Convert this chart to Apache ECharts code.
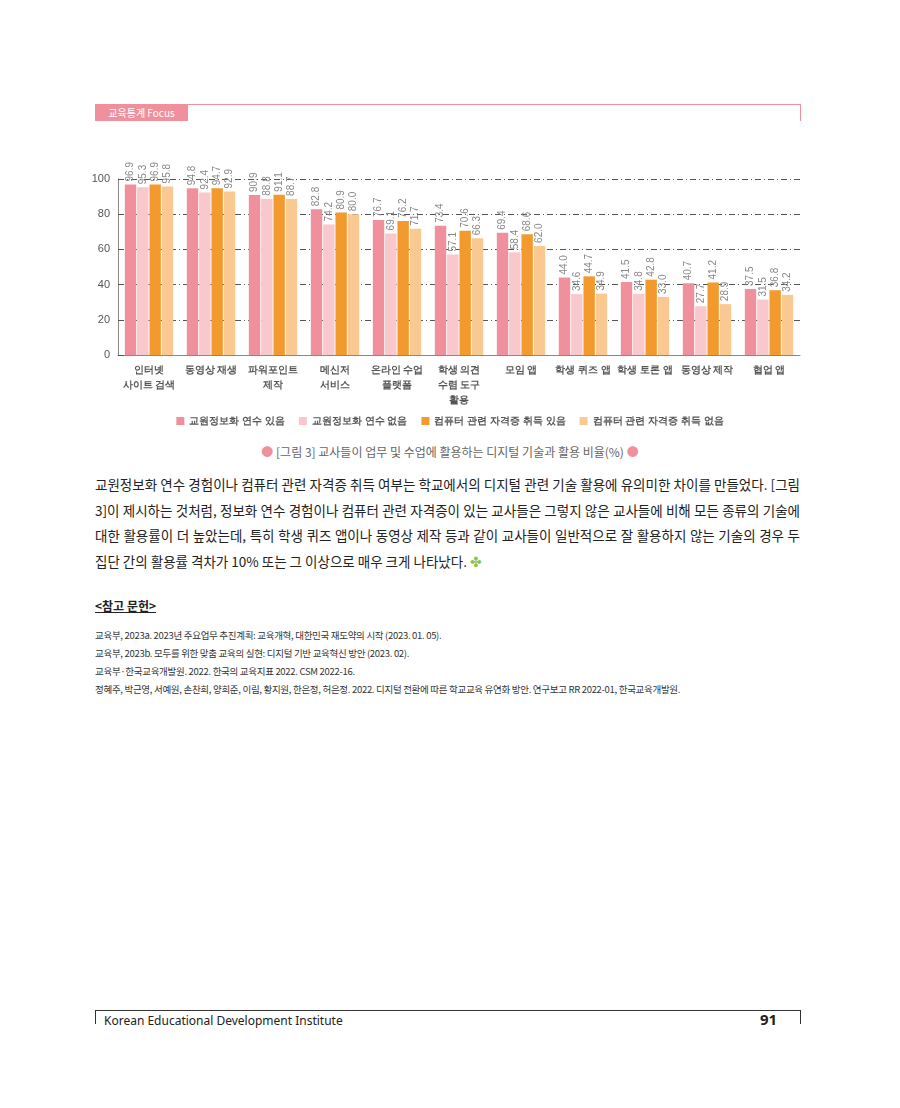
<!DOCTYPE html>
<html><head><meta charset="utf-8">
<script src="https://cdn.jsdelivr.net/npm/echarts@6/dist/echarts.min.js"></script>
<style>
body{margin:0;width:900px;height:1108px;position:relative;background:#fff;font-family:"Noto Sans CJK KR","Noto Sans",sans-serif;color:#222}
.abs{position:absolute}
</style></head><body>
<div class="abs" style="left:95px;top:104px;width:93px;height:17px;background:#F0909C;color:#fff;font-size:10px;line-height:17px;text-align:center">교육통계 Focus</div>
<div class="abs" style="left:188px;top:104px;width:612px;border-top:1px solid #F0909C"></div>
<div class="abs" style="left:800px;top:104px;height:17px;border-left:1px solid #F0909C"></div>
<div id="c" class="abs" style="left:0;top:0;width:900px;height:440px"></div>
<div class="abs" style="left:0;top:443px;width:900px;text-align:center;font-size:12px;color:#666"><span style="color:#F0909C">●</span> [그림 3] 교사들이 업무 및 수업에 활용하는 디지털 기술과 활용 비율(%) <span style="color:#F0909C">●</span></div>
<div class="abs" style="left:95px;top:472px;width:705px;font-size:13.5px;line-height:25.5px;text-align:justify;color:#222">교원정보화 연수 경험이나 컴퓨터 관련 자격증 취득 여부는 학교에서의 디지털 관련 기술 활용에 유의미한 차이를 만들었다. [그림 3]이 제시하는 것처럼, 정보화 연수 경험이나 컴퓨터 관련 자격증이 있는 교사들은 그렇지 않은 교사들에 비해 모든 종류의 기술에 대한 활용률이 더 높았는데, 특히 학생 퀴즈 앱이나 동영상 제작 등과 같이 교사들이 일반적으로 잘 활용하지 않는 기술의 경우 두 집단 간의 활용률 격차가 10% 또는 그 이상으로 매우 크게 나타났다. <span style="color:#8BC34A">✤</span></div>
<div class="abs" style="left:95px;top:597px;font-size:12px;font-weight:bold;text-decoration:underline">&lt;참고 문헌&gt;</div>
<div class="abs" style="left:95px;top:626px;font-size:9.5px;line-height:18px;color:#333;letter-spacing:-0.3px">
교육부, 2023a. 2023년 주요업무 추진계획: 교육개혁, 대한민국 재도약의 시작 (2023. 01. 05).<br>
교육부, 2023b. 모두를 위한 맞춤 교육의 실현: 디지털 기반 교육혁신 방안 (2023. 02).<br>
교육부·한국교육개발원. 2022. 한국의 교육지표 2022. CSM 2022-16.<br>
정혜주, 박근영, 서예원, 손찬희, 양희준, 이림, 황지원, 한은정, 허은정. 2022. 디지털 전환에 따른 학교교육 유연화 방안. 연구보고 RR 2022-01, 한국교육개발원.</div>
<div class="abs" style="left:95px;top:1010px;width:705px;border-top:1px solid #333"></div>
<div class="abs" style="left:95px;top:1010px;height:14px;border-left:1px solid #333"></div>
<div class="abs" style="left:800px;top:1010px;height:14px;border-left:1px solid #333"></div>
<div class="abs" style="left:104px;top:1012px;font-size:12px;color:#222;font-family:'Noto Sans'">Korean Educational Development Institute</div>
<div class="abs" style="left:760px;top:1009px;font-size:15px;font-weight:bold;font-family:'Noto Sans'">91</div>
<script>
const categories=['인터넷\n사이트 검색','동영상 재생','파워포인트\n제작','메신저\n서비스','온라인 수업\n플랫폼','학생 의견\n수렴 도구\n활용','모임 앱','학생 퀴즈 앱','학생 토론 앱','동영상 제작','협업 앱'];
const seriesNames=['교원정보화 연수 있음','교원정보화 연수 없음','컴퓨터 관련 자격증 취득 있음','컴퓨터 관련 자격증 취득 없음'];
const trainYes=[96.9,94.8,90.9,82.8,76.7,73.4,69.4,44.0,41.5,40.7,37.5];
const trainNo=[95.3,92.4,88.8,74.2,69.1,57.1,58.4,34.6,34.8,27.7,31.5];
const certYes=[96.9,94.7,91.1,80.9,76.2,70.6,68.6,44.7,42.8,41.2,36.8];
const certNo=[95.8,92.9,88.7,80.0,71.7,66.3,62.0,34.9,33.0,28.9,34.2];
const colors=['#F0909C','#F8C8CC','#F29A2E','#FAC992'];
const yTicks=[0,20,40,60,80,100];
const data=[trainYes,trainNo,certYes,certNo];
const ch=echarts.init(document.getElementById('c'));
ch.setOption({
 animation:false,
 legend:{top:411,left:'center',itemWidth:8,itemHeight:8,itemGap:14,icon:'rect',textStyle:{fontSize:10,color:'#555',fontWeight:'bold'}},
 grid:{left:118,right:100,top:179,height:176},
 xAxis:{type:'category',data:categories,axisTick:{show:false},axisLine:{lineStyle:{color:'#888'}},axisLabel:{fontSize:10,color:'#555',fontWeight:'bold',lineHeight:15,interval:0,margin:8}},
 yAxis:{type:'value',min:0,max:100,interval:20,axisLabel:{fontSize:11,color:'#555',formatter:v=>yTicks.includes(v)?String(v):''},axisLine:{show:true,lineStyle:{color:'#888'}},axisTick:{show:true,length:6,inside:true,lineStyle:{color:'#555'}},splitLine:{lineStyle:{color:'#555',type:[6,3,1,3]}}},
 series:data.map((d,i)=>({name:seriesNames[i],type:'bar',data:d,barGap:'8%',barCategoryGap:'22%',itemStyle:{color:colors[i]},
  label:{show:true,position:'top',rotate:90,align:'left',verticalAlign:'middle',distance:3,fontSize:10,color:'#888',formatter:p=>p.value.toFixed(1)}}))
});
</script>
</body></html>
